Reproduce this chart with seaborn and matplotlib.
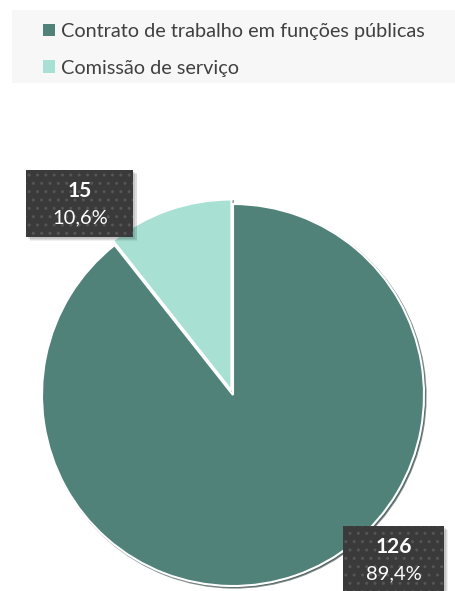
import numpy as np
import pandas as pd
import matplotlib
matplotlib.use("Agg")
import matplotlib.pyplot as plt
from matplotlib.patches import Rectangle, Patch
import seaborn as sns

# Workers by type of legal employment relationship
categories = ["Contrato de trabalho em funções públicas", "Comissão de serviço"]
counts = [126, 15]
percent_labels = ["89,4%", "10,6%"]
colors = ["#50827A", "#A8E0D3"]

df = pd.DataFrame({"categoria": categories, "n": counts, "pct": percent_labels})

sns.set_theme(style="white")
plt.rcParams["font.family"] = ["Lato", "DejaVu Sans"]
palette = sns.color_palette(colors)

W, H = 456, 591
fig = plt.figure(figsize=(W / 100, H / 100), dpi=100)
fig.patch.set_facecolor("white")

# legend panel background
fig.patches.append(Rectangle((12 / W, 1 - 83 / H), (W - 12) / W, 73 / H,
                             transform=fig.transFigure, facecolor="#F7F7F7",
                             edgecolor="none", zorder=0))

# pie axes: centre (233, 395) px, radius 191 px
cx, cy, r = 233, 395, 191
ax = fig.add_axes([(cx - r) / W, (H - cy - r) / H, 2 * r / W, 2 * r / H])
wedges, _ = ax.pie(df["n"], colors=palette, startangle=90, counterclock=False,
                   explode=[0, 0.025], radius=1,
                   wedgeprops=dict(edgecolor="white", linewidth=1.5),
                   shadow=dict(ox=0.006, oy=-0.006, alpha=0.6, shade=0.5))
for w in ax.patches:
    w.set_clip_on(False)
ax.set_xlim(-1, 1)
ax.set_ylim(-1, 1)
ax.set_aspect("auto")
ax.axis("off")

# data label boxes (px coordinates of box centres and sizes)
label_boxes = [
    dict(x=394, y=559, w=101, h=66),   # 126
    dict(x=80, y=203, w=107, h=67),    # 15
]
for (idx, row), box in zip(df.iterrows(), label_boxes):
    x0 = (box["x"] - box["w"] / 2) / W
    y0 = 1 - (box["y"] + box["h"] / 2) / H
    # soft shadow
    for k, a in enumerate([0.10, 0.08, 0.06]):
        fig.patches.append(Rectangle((x0 + (2 + k) / W, y0 - (2 + k) / H), box["w"] / W, box["h"] / H,
                                     transform=fig.transFigure, facecolor="black",
                                     edgecolor="none", alpha=a, zorder=4))
    fig.patches.append(Rectangle((x0, y0), box["w"] / W, box["h"] / H,
                                 transform=fig.transFigure, facecolor="#3A3A3A",
                                 edgecolor="#555555", linewidth=0, hatch="..",
                                 zorder=5))
    fig.text(box["x"] / W, 1 - (box["y"] - 12) / H, str(row["n"]), ha="center", va="center",
             fontsize=15, fontweight="bold", color="white", zorder=6)
    fig.text(box["x"] / W, 1 - (box["y"] + 15) / H, row["pct"], ha="center", va="center",
             fontsize=14.5, color="white", zorder=6)

handles = [Patch(facecolor=c, edgecolor="none") for c in colors]
fig.legend(handles, categories, loc="upper left", bbox_to_anchor=(43 / W, 1 - 23 / H),
           frameon=False, fontsize=14.3, handlelength=0.62, handleheight=0.62,
           handletextpad=0.3, labelspacing=1.0, labelcolor="#404040",
           borderaxespad=0, borderpad=0)

fig.savefig("out.png", dpi=100)
